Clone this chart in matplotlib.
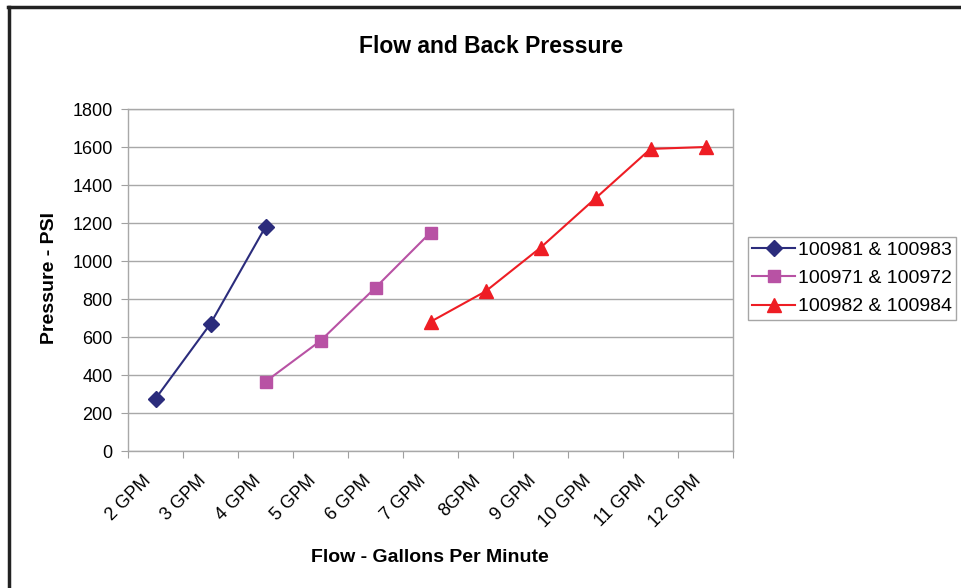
import matplotlib.pyplot as plt
from matplotlib.lines import Line2D
from matplotlib.transforms import ScaledTranslation

plt.rcParams['font.family'] = ['Liberation Sans', 'DejaVu Sans']

# categorias del eje x
cats = ["2 GPM", "3 GPM", "4 GPM", "5 GPM", "6 GPM", "7 GPM", "8GPM",
        "9 GPM", "10 GPM", "11 GPM", "12 GPM"]

# series (categorias, valores)
s1_cats = ["2 GPM", "3 GPM", "4 GPM"]
s1_vals = [275, 670, 1180]
s2_cats = ["4 GPM", "5 GPM", "6 GPM", "7 GPM"]
s2_vals = [365, 580, 860, 1150]
s3_cats = ["7 GPM", "8GPM", "9 GPM", "10 GPM", "11 GPM", "12 GPM"]
s3_vals = [680, 840, 1070, 1330, 1590, 1600]

labels = ["100981 & 100983", "100971 & 100972", "100982 & 100984"]
yticks = [0, 200, 400, 600, 800, 1000, 1200, 1400, 1600, 1800]

W, H = 961, 588
fig = plt.figure(figsize=(W/100, H/100), dpi=100)
ax = fig.add_axes([128/W, 1-451/H, 605/W, 342/H])

def pos(cs):
    return [cats.index(c) for c in cs]

ax.plot(pos(s1_cats), s1_vals, color="#2B2C7C", lw=1.5, marker="D", ms=8,
        label=labels[0])
ax.plot(pos(s2_cats), s2_vals, color="#B852A4", lw=1.5, marker="s", ms=9,
        label=labels[1])
ax.plot(pos(s3_cats), s3_vals, color="#EE1D24", lw=1.5, marker="^", ms=9.5,
        label=labels[2])

ax.set_xlim(-0.5, len(cats) - 0.5)
ax.set_ylim(0, 1800)
ax.set_yticks(yticks)
ax.yaxis.grid(True, color="#A8A8A8", lw=1)
ax.set_axisbelow(True)

# ticks en los limites de categoria, etiquetas en el centro
ax.set_xticks([i - 0.5 for i in range(len(cats) + 1)])
ax.set_xticklabels([])
ax.set_xticks(range(len(cats)), minor=True)
ax.set_xticklabels(cats, minor=True, rotation=45, ha="right", va="top",
                   rotation_mode="anchor", fontsize=13)
ax.tick_params(axis="x", which="minor", length=0, pad=15)
ax.tick_params(axis="x", which="major", length=5, color="#A0A0A0")
ax.tick_params(axis="y", length=5, color="#A0A0A0", labelsize=13, pad=6)
off = ScaledTranslation(-13/100, 0, fig.dpi_scale_trans)
for t in ax.get_xticklabels(minor=True):
    t.set_transform(t.get_transform() + off)

for s in ax.spines.values():
    s.set_color("#A8A8A8")
    s.set_linewidth(1)

fig.text(491/W, 1-53/H, "Flow and Back Pressure", fontsize=16.5,
         fontweight="bold", ha="center", va="baseline")
fig.text(430/W, 1-562/H, "Flow - Gallons Per Minute", fontsize=14,
         fontweight="bold", ha="center", va="baseline")
fig.text(50/W, 1-278/H, "Pressure - PSI", fontsize=14, fontweight="bold",
         ha="center", va="center", rotation=90)

leg = ax.legend(loc="center left", bbox_to_anchor=(1.025, 0.505), fontsize=14,
                frameon=True, fancybox=False, edgecolor="#909090",
                borderpad=0.22, labelspacing=0.55, handlelength=2.2,
                handletextpad=0.15, borderaxespad=0)
leg.get_frame().set_linewidth(1)

# marco exterior
fig.add_artist(Line2D([9/W, 9/W], [0, 1-7/H], color="#222222", lw=2.5,
                      transform=fig.transFigure))
fig.add_artist(Line2D([8/W, 1], [1-7/H, 1-7/H], color="#222222", lw=2.5,
                      transform=fig.transFigure))

fig.savefig("out.png", dpi=100)
